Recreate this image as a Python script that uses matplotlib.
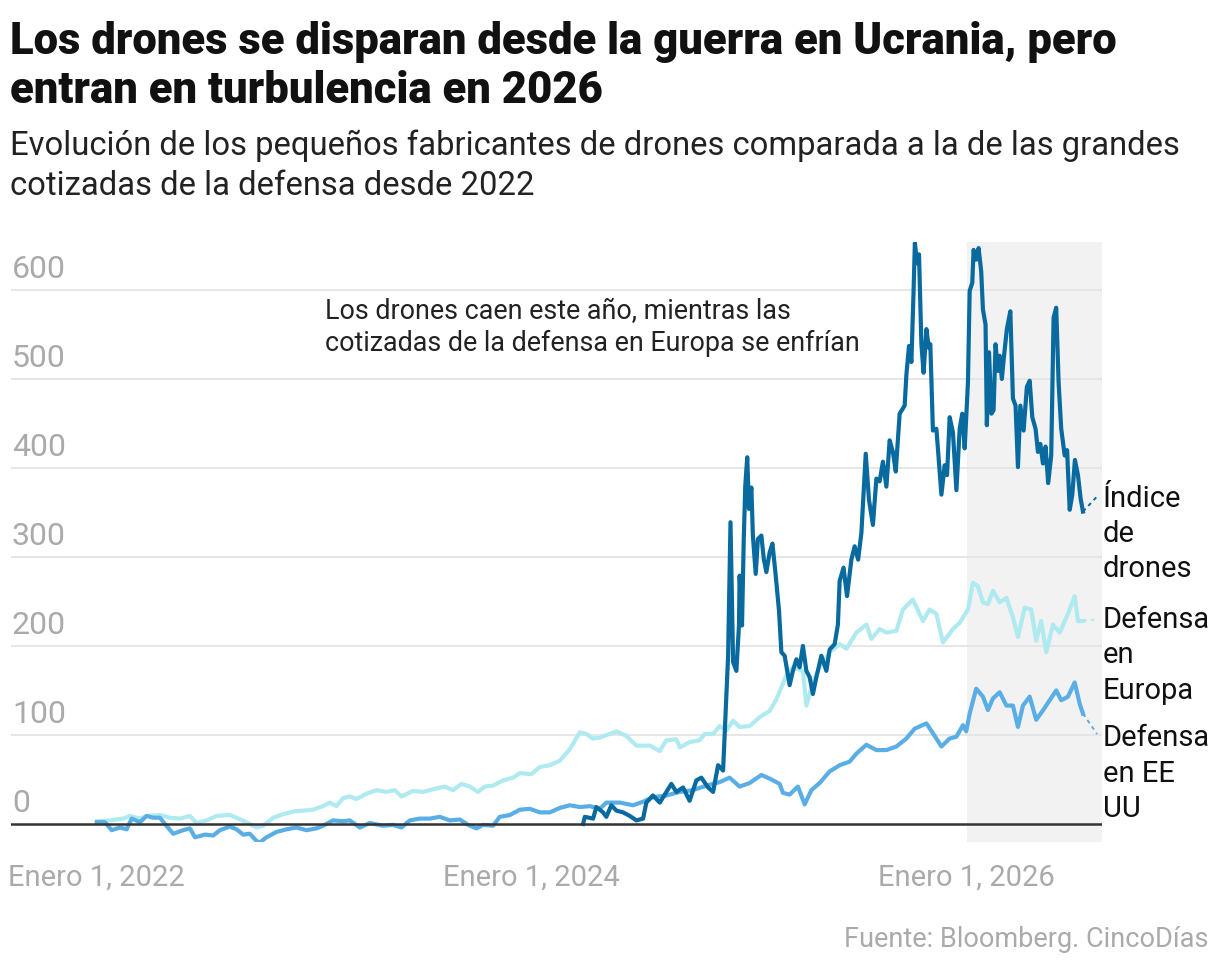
import numpy as np
import matplotlib.pyplot as plt
import matplotlib.transforms as mtransforms

# (año decimal, valor)
europa = [
    (2022.000, 3), (2022.060, 4), (2022.120, 6), (2022.152, 9), (2022.198, 6),
    (2022.229, 9), (2022.290, 10), (2022.336, 7), (2022.382, 6), (2022.428, 9),
    (2022.458, 1), (2022.504, 4), (2022.550, 9), (2022.611, 10), (2022.642, 7),
    (2022.688, 2), (2022.734, -4), (2022.765, -2), (2022.811, 7), (2022.857, 11),
    (2022.903, 14), (2022.949, 15), (2022.994, 16), (2023.040, 20), (2023.071, 24),
    (2023.102, 20), (2023.132, 29), (2023.163, 31), (2023.194, 28), (2023.240, 34),
    (2023.286, 38), (2023.332, 36), (2023.370, 38), (2023.401, 31), (2023.454, 37),
    (2023.500, 36), (2023.546, 39), (2023.600, 42), (2023.638, 38), (2023.677, 45),
    (2023.715, 42), (2023.753, 36), (2023.784, 42), (2023.822, 43), (2023.868, 49),
    (2023.914, 52), (2023.945, 57), (2023.999, 56), (2024.037, 64), (2024.083, 66),
    (2024.129, 71), (2024.175, 84), (2024.221, 103), (2024.251, 101), (2024.282, 96),
    (2024.313, 97), (2024.389, 104), (2024.435, 99), (2024.481, 88), (2024.543, 88),
    (2024.589, 82), (2024.619, 94), (2024.665, 95), (2024.681, 86), (2024.726, 92),
    (2024.772, 94), (2024.795, 101), (2024.834, 101), (2024.864, 110), (2024.895, 105),
    (2024.926, 116), (2024.956, 109), (2025.002, 110), (2025.048, 120), (2025.094, 127),
    (2025.125, 140), (2025.171, 167), (2025.201, 176), (2025.247, 172), (2025.263, 133),
    (2025.293, 159), (2025.324, 176), (2025.370, 193), (2025.416, 202), (2025.447, 197),
    (2025.493, 215), (2025.539, 224), (2025.562, 208), (2025.600, 219), (2025.631, 215),
    (2025.677, 217), (2025.707, 241), (2025.753, 252), (2025.799, 228), (2025.830, 241),
    (2025.861, 236), (2025.891, 204), (2025.937, 219), (2025.968, 226), (2026.006, 241),
    (2026.029, 271), (2026.052, 267), (2026.075, 249), (2026.098, 247), (2026.121, 262),
    (2026.152, 249), (2026.183, 254), (2026.213, 232), (2026.236, 210), (2026.267, 243),
    (2026.297, 241), (2026.320, 206), (2026.343, 228), (2026.366, 193), (2026.397, 224),
    (2026.428, 215), (2026.466, 236), (2026.497, 256), (2026.512, 228), (2026.535, 228),
]

eeuu = [
    (2022.000, 2), (2022.037, 2), (2022.068, -7), (2022.106, -4), (2022.137, -6),
    (2022.160, 6), (2022.198, 2), (2022.229, 9), (2022.259, 7), (2022.290, 7),
    (2022.320, -2), (2022.351, -11), (2022.397, -7), (2022.428, -5), (2022.451, -15),
    (2022.497, -12), (2022.535, -13), (2022.566, -7), (2022.611, -3), (2022.642, -6),
    (2022.673, -12), (2022.703, -11), (2022.734, -19), (2022.749, -21), (2022.780, -15),
    (2022.826, -9), (2022.872, -6), (2022.918, -4), (2022.964, -7), (2023.010, -5),
    (2023.040, -2), (2023.086, 4), (2023.132, 3), (2023.163, 4), (2023.209, -4),
    (2023.255, 1), (2023.316, -2), (2023.362, -1), (2023.401, -4), (2023.439, 4),
    (2023.485, 6), (2023.531, 6), (2023.577, 8), (2023.623, 4), (2023.669, 5),
    (2023.707, -1), (2023.746, -5), (2023.776, -1), (2023.822, -2), (2023.853, 8),
    (2023.899, 10), (2023.945, 16), (2023.991, 17), (2024.037, 13), (2024.083, 13),
    (2024.129, 18), (2024.175, 21), (2024.221, 19), (2024.267, 20), (2024.313, 17),
    (2024.343, 24), (2024.405, 24), (2024.466, 21), (2024.512, 25), (2024.557, 30),
    (2024.619, 32), (2024.681, 36), (2024.742, 38), (2024.803, 43), (2024.864, 47),
    (2024.910, 52), (2024.956, 42), (2025.002, 46), (2025.056, 55), (2025.094, 51),
    (2025.140, 45), (2025.155, 35), (2025.186, 33), (2025.224, 42), (2025.255, 22),
    (2025.286, 38), (2025.324, 46), (2025.370, 59), (2025.416, 66), (2025.462, 70),
    (2025.493, 79), (2025.539, 89), (2025.585, 83), (2025.631, 83), (2025.677, 87),
    (2025.723, 96), (2025.761, 107), (2025.815, 113), (2025.845, 102), (2025.884, 87),
    (2025.922, 96), (2025.953, 98), (2025.983, 111), (2025.998, 104), (2026.014, 124),
    (2026.044, 152), (2026.075, 143), (2026.098, 128), (2026.121, 141), (2026.152, 148),
    (2026.183, 133), (2026.213, 133), (2026.236, 109), (2026.259, 133), (2026.290, 143),
    (2026.320, 117), (2026.352, 128), (2026.382, 139), (2026.412, 150), (2026.435, 139),
    (2026.466, 143), (2026.497, 159), (2026.520, 135), (2026.535, 124),
]

drones = [
    (2024.236, 0), (2024.244, 8), (2024.282, 6), (2024.297, 19), (2024.328, 13),
    (2024.343, 8), (2024.366, 21), (2024.389, 15), (2024.420, 13), (2024.451, 9),
    (2024.481, 4), (2024.512, 6), (2024.527, 24), (2024.557, 32), (2024.589, 24),
    (2024.619, 36), (2024.642, 45), (2024.665, 36), (2024.696, 41), (2024.726, 26),
    (2024.757, 49), (2024.780, 52), (2024.811, 41), (2024.834, 36), (2024.857, 66),
    (2024.880, 60), (2024.895, 144), (2024.903, 189), (2024.914, 339), (2024.926, 182),
    (2024.941, 172), (2024.953, 223), (2024.956, 279), (2024.967, 223), (2024.975, 320),
    (2024.982, 380), (2024.991, 412), (2024.999, 354), (2025.010, 378), (2025.017, 324),
    (2025.030, 281), (2025.040, 320), (2025.056, 324), (2025.067, 298), (2025.079, 283),
    (2025.094, 305), (2025.107, 315), (2025.122, 279), (2025.137, 240), (2025.148, 193),
    (2025.163, 189), (2025.186, 156), (2025.201, 172), (2025.217, 185), (2025.232, 176),
    (2025.247, 200), (2025.263, 172), (2025.278, 165), (2025.293, 146), (2025.309, 165),
    (2025.332, 189), (2025.355, 172), (2025.370, 196), (2025.393, 202), (2025.408, 224),
    (2025.416, 273), (2025.434, 288), (2025.450, 256), (2025.470, 297), (2025.485, 312),
    (2025.501, 297), (2025.516, 327), (2025.536, 416), (2025.551, 364), (2025.569, 336),
    (2025.585, 388), (2025.600, 385), (2025.615, 407), (2025.631, 379), (2025.646, 431),
    (2025.661, 418), (2025.674, 396), (2025.692, 461), (2025.715, 470), (2025.723, 505),
    (2025.735, 537), (2025.746, 519), (2025.756, 599), (2025.762, 653), (2025.772, 630),
    (2025.781, 640), (2025.792, 539), (2025.802, 507), (2025.815, 556), (2025.826, 535),
    (2025.833, 539), (2025.845, 442), (2025.861, 444), (2025.869, 418), (2025.884, 370),
    (2025.899, 403), (2025.910, 392), (2025.922, 457), (2025.937, 440), (2025.953, 375),
    (2025.968, 444), (2025.980, 461), (2025.991, 422), (2026.006, 496), (2026.014, 599),
    (2026.026, 608), (2026.032, 645), (2026.044, 634), (2026.055, 647), (2026.067, 621),
    (2026.075, 578), (2026.087, 561), (2026.093, 448), (2026.103, 530), (2026.114, 461),
    (2026.124, 465), (2026.133, 539), (2026.144, 509), (2026.152, 526), (2026.162, 500),
    (2026.172, 526), (2026.185, 556), (2026.201, 576), (2026.213, 478), (2026.225, 470),
    (2026.236, 401), (2026.247, 470), (2026.262, 442), (2026.277, 491), (2026.290, 498),
    (2026.302, 457), (2026.317, 444), (2026.328, 418), (2026.339, 427), (2026.351, 405),
    (2026.363, 424), (2026.375, 383), (2026.389, 414), (2026.400, 569), (2026.412, 580),
    (2026.423, 496), (2026.435, 444), (2026.451, 414), (2026.462, 420), (2026.474, 353),
    (2026.486, 370), (2026.498, 409), (2026.512, 392), (2026.524, 366), (2026.535, 351),
]

yticks = [0, 100, 200, 300, 400, 500, 600]
xticks = [2022, 2024, 2026]
xlabels = ["Enero 1, 2022", "Enero 1, 2024", "Enero 1, 2026"]

c_drones = "#086a9f"
c_europa = "#aeeaf0"
c_eeuu = "#5aaee6"
gris = "#aaaaaa"

plt.rcParams['font.family'] = ['Roboto', 'DejaVu Sans']

fig = plt.figure(figsize=(12.2, 9.7), dpi=100)
ax = fig.add_axes([0.009, 0.131, 0.894, 0.6186])
ax.set_xlim(2021.605, 2026.621)
ax.set_ylim(-20.2, 654)

# zona sombreada 2026
ax.axvspan(2026.0, 2026.621, color="#f2f2f2", zorder=0, lw=0)

for v in yticks[1:]:
    ax.axhline(v, color="#e4e4e4", lw=1.3, zorder=1)
ax.axhline(0, color="#333333", lw=1.8, zorder=5)

for serie, color in [(europa, c_europa), (eeuu, c_eeuu), (drones, c_drones)]:
    xs, ys = zip(*serie)
    ax.plot(xs, ys, color=color, lw=3.0, solid_joinstyle="round", zorder=3)

# líneas guía hacia las etiquetas
for serie, color, destino in [(drones, c_drones, 368), (europa, c_europa, 230), (eeuu, c_eeuu, 101)]:
    x0, y0 = serie[-1]
    ax.plot([x0, 2026.60], [y0, destino], color=color, lw=1.4, ls=(0, (2, 2)), zorder=3)

for s in ax.spines.values():
    s.set_visible(False)
ax.set_yticks([])
ax.set_xticks(xticks)
ax.set_xticklabels(xlabels, color=gris, fontsize=21)
ax.tick_params(axis="x", length=0, pad=15)

trans = mtransforms.offset_copy(ax.get_yaxis_transform(), fig=fig, x=1, y=7, units="dots")
for v in yticks:
    ax.text(0, v, str(v), transform=trans, ha="left", va="bottom", color=gris, fontsize=23)

# etiquetas de series
etiquetas = [("Índice\nde\ndrones", 382), ("Defensa\nen\nEuropa", 246), ("Defensa\nen EE\nUU", 113)]
for texto, y in etiquetas:
    ax.text(2026.625, y, texto, ha="left", va="top", fontsize=21, color="#111111",
            linespacing=1.33, clip_on=False)

ax.text(2023.048, 592, "Los drones caen este año, mientras las\ncotizadas de la defensa en Europa se enfrían",
        ha="left", va="top", fontsize=19.4, color="#222222", linespacing=1.22)

fig.text(0.008, 1 - 21 / 970, "Los drones se disparan desde la guerra en Ucrania, pero\nentran en turbulencia en 2026",
         ha="left", va="top", fontsize=31.4, fontweight="black", color="#111111", linespacing=1.2)
fig.text(0.008, 1 - 130 / 970, "Evolución de los pequeños fabricantes de drones comparada a la de las grandes\ncotizadas de la defensa desde 2022",
         ha="left", va="top", fontsize=23.6, color="#222222", linespacing=1.32)
fig.text(1208 / 1220, 1 - 940 / 970, "Fuente: Bloomberg. CincoDías", ha="right", va="center",
         fontsize=19.5, color=gris)

fig.savefig("out.png", dpi=100)
